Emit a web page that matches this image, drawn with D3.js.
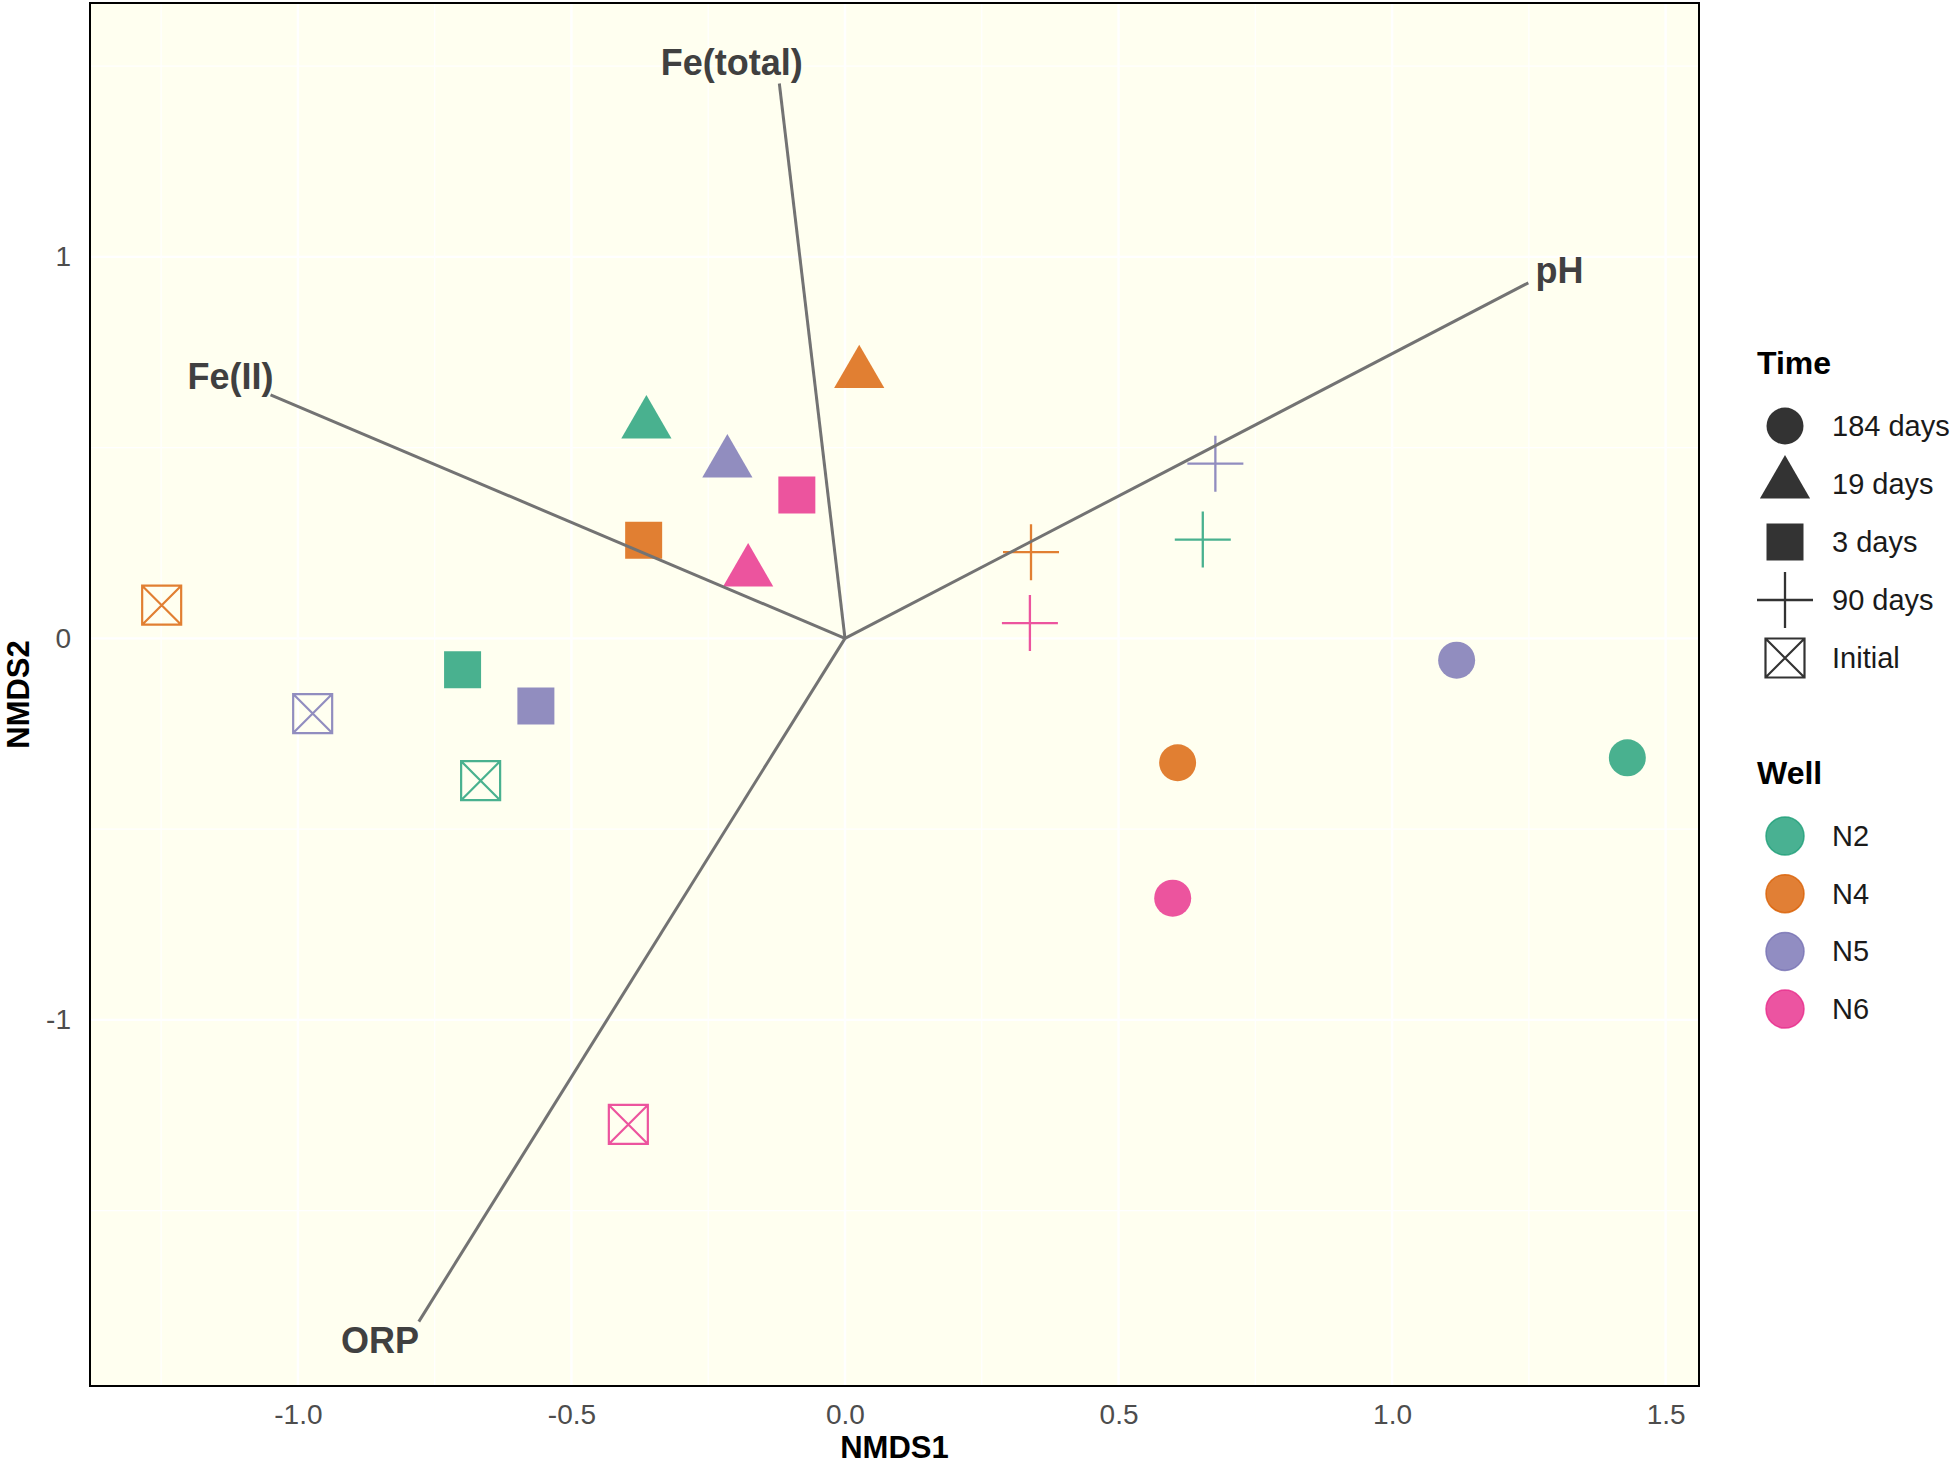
<!DOCTYPE html>
<html>
<head>
<meta charset="utf-8">
<script src="https://cdn.jsdelivr.net/npm/d3@7"></script>
<style>
  body { margin: 0; background: #ffffff; }
  text { font-family: "Liberation Sans", Arial, sans-serif; }
</style>
</head>
<body>
<div id="chart"></div>
<script>
// --- data ---
const wells = ["N2", "N4", "N5", "N6"];
const timeLevels = ["184 days", "19 days", "3 days", "90 days", "Initial"];

const sampleWell = ["N4", "N5", "N2", "N6",  "N2", "N5", "N4", "N6",  "N2", "N5", "N4", "N6",  "N5", "N2", "N4", "N6",  "N5", "N2", "N4", "N6"];
const sampleTime = ["Initial", "Initial", "Initial", "Initial",
                    "3 days", "3 days", "3 days", "3 days",
                    "19 days", "19 days", "19 days", "19 days",
                    "90 days", "90 days", "90 days", "90 days",
                    "184 days", "184 days", "184 days", "184 days"];
const nmds1 = [-1.249, -0.973, -0.666, -0.396,  -0.699, -0.565, -0.368, -0.088,  -0.363, -0.215, 0.026, -0.177,  0.677, 0.654, 0.340, 0.338,  1.118, 1.430, 0.608, 0.599];
const nmds2 = [0.087, -0.197, -0.373, -1.274,  -0.082, -0.177, 0.257, 0.376,  0.562, 0.460, 0.694, 0.174,  0.458, 0.259, 0.226, 0.040,  -0.057, -0.313, -0.326, -0.681];

// environmental fit vectors
const envVars = ["Fe(total)", "pH", "Fe(II)", "ORP"];
const envX = [-0.120, 1.249, -1.050, -0.779];
const envY = [1.4545, 0.932, 0.6385, -1.791];
const envLabelX = [-0.207, 1.306, -1.123, -0.850];
const envLabelY = [1.510, 0.964, 0.6865, -1.840];

const xTicks = [-1.0, -0.5, 0.0, 0.5, 1.0, 1.5];
const yTicks = [-1, 0, 1];
const xMinor = [-1.25, -0.75, -0.25, 0.25, 0.75, 1.25];
const yMinor = [-1.5, -0.5, 0.5, 1.5];

// --- layout ---
const width = 1955, height = 1465;
const panel = { left: 90, right: 1699, top: 3, bottom: 1386 };

const svg = d3.select("#chart").append("svg")
    .attr("width", width)
    .attr("height", height);

const x = d3.scaleLinear().domain([-1.380, 1.561]).range([panel.left, panel.right]);
const y = d3.scaleLinear().domain([1.6655, -1.9597]).range([panel.top, panel.bottom]);

const color = d3.scaleOrdinal().domain(wells).range(["#1B9E77", "#D95F02", "#7570B3", "#E7298A"]);

// panel background
svg.append("rect")
    .attr("x", panel.left).attr("y", panel.top)
    .attr("width", panel.right - panel.left).attr("height", panel.bottom - panel.top)
    .attr("fill", "#fffff0");

// grid
const grid = svg.append("g").attr("stroke", "#ffffff");
grid.selectAll(".vminor").data(xMinor).join("line")
    .attr("x1", d => x(d)).attr("x2", d => x(d))
    .attr("y1", panel.top).attr("y2", panel.bottom).attr("stroke-width", 1.2);
grid.selectAll(".hminor").data(yMinor).join("line")
    .attr("y1", d => y(d)).attr("y2", d => y(d))
    .attr("x1", panel.left).attr("x2", panel.right).attr("stroke-width", 1.2);
grid.selectAll(".vmajor").data(xTicks).join("line")
    .attr("x1", d => x(d)).attr("x2", d => x(d))
    .attr("y1", panel.top).attr("y2", panel.bottom).attr("stroke-width", 2.4);
grid.selectAll(".hmajor").data(yTicks).join("line")
    .attr("y1", d => y(d)).attr("y2", d => y(d))
    .attr("x1", panel.left).attr("x2", panel.right).attr("stroke-width", 2.4);

// shapes
const sym = {
  "184 days": d3.symbol(d3.symbolCircle, Math.PI * 18.5 * 18.5)(),
  "19 days": d3.symbol(d3.symbolTriangle, 1092)(),
  "3 days": d3.symbol(d3.symbolSquare, 37 * 37)()
};
const plusPath = "M-28,0H28M0,-28V28";
const boxPath = "M-19.5,-19.5H19.5V19.5H-19.5Z M-19.5,-19.5L19.5,19.5 M19.5,-19.5L-19.5,19.5";

function drawShape(g, time, col) {
  if (time === "90 days") {
    g.append("path").attr("d", plusPath).attr("fill", "none")
        .attr("stroke", col).attr("stroke-width", 2.3);
  } else if (time === "Initial") {
    g.append("path").attr("d", boxPath).attr("fill", "none")
        .attr("stroke", col).attr("stroke-width", 2.2);
  } else {
    g.append("path").attr("d", sym[time]).attr("fill", col);
  }
}

const samples = nmds1.map((v, i) => ({ x: v, y: nmds2[i], well: sampleWell[i], time: sampleTime[i] }));

const pts = svg.append("g");
samples.forEach(s => {
  const g = pts.append("g")
      .attr("transform", `translate(${x(s.x)},${y(s.y)})`)
      .attr("opacity", 0.8);
  drawShape(g, s.time, color(s.well));
});

// env vectors
const vecs = envVars.map((v, i) => ({ name: v, x: envX[i], y: envY[i], lx: envLabelX[i], ly: envLabelY[i] }));
svg.append("g").selectAll("line").data(vecs).join("line")
    .attr("x1", x(0)).attr("y1", y(0))
    .attr("x2", d => x(d.x)).attr("y2", d => y(d.y))
    .attr("stroke", "#737373").attr("stroke-width", 3);
svg.append("g").selectAll("text").data(vecs).join("text")
    .attr("x", d => x(d.lx)).attr("y", d => y(d.ly))
    .attr("text-anchor", "middle").attr("dominant-baseline", "central")
    .attr("font-size", 36).attr("font-weight", "bold").attr("fill", "#404040")
    .text(d => d.name);

// panel border
svg.append("rect")
    .attr("x", panel.left).attr("y", panel.top)
    .attr("width", panel.right - panel.left).attr("height", panel.bottom - panel.top)
    .attr("fill", "none").attr("stroke", "#000").attr("stroke-width", 2);

// axes (plain hyphen minus like the original)
const xAxis = svg.append("g")
    .attr("transform", `translate(0,${panel.bottom})`)
    .call(d3.axisBottom(x).tickValues(xTicks).tickFormat(d => d.toFixed(1)).tickSize(0).tickPadding(18));
xAxis.select(".domain").remove();
xAxis.selectAll("text").attr("font-size", 28).attr("fill", "#4d4d4d")
    .attr("font-family", "'Liberation Sans', Arial, sans-serif");

const yAxis = svg.append("g")
    .attr("transform", `translate(${panel.left},0)`)
    .call(d3.axisLeft(y).tickValues(yTicks).tickFormat(d => String(d)).tickSize(0).tickPadding(19));
yAxis.select(".domain").remove();
yAxis.selectAll("text").attr("font-size", 28).attr("fill", "#4d4d4d")
    .attr("font-family", "'Liberation Sans', Arial, sans-serif");

svg.append("text")
    .attr("x", (panel.left + panel.right) / 2).attr("y", 1447)
    .attr("text-anchor", "middle").attr("dominant-baseline", "central")
    .attr("font-size", 31).attr("font-weight", "bold").text("NMDS1");
svg.append("text")
    .attr("transform", `translate(18,${(panel.top + panel.bottom) / 2}) rotate(-90)`)
    .attr("text-anchor", "middle").attr("dominant-baseline", "central")
    .attr("font-size", 31).attr("font-weight", "bold").text("NMDS2");

// legends
const legX = 1757, keyX = 1785, labX = 1832;
svg.append("text").attr("x", legX).attr("y", 363).attr("dominant-baseline", "central")
    .attr("font-size", 32).attr("font-weight", "bold").text("Time");
timeLevels.forEach((t, i) => {
  const ky = 426 + i * 58;
  const g = svg.append("g").attr("transform", `translate(${keyX},${ky})`).attr("opacity", 0.8);
  drawShape(g, t, "#000");
  svg.append("text").attr("x", labX).attr("y", ky).attr("dominant-baseline", "central")
      .attr("font-size", 29).attr("fill", "#1a1a1a").text(t);
});

svg.append("text").attr("x", legX).attr("y", 773).attr("dominant-baseline", "central")
    .attr("font-size", 32).attr("font-weight", "bold").text("Well");
wells.forEach((w, i) => {
  const ky = 836 + i * 57.7;
  svg.append("circle").attr("cx", keyX).attr("cy", ky).attr("r", 19)
      .attr("fill", color(w)).attr("fill-opacity", 0.8)
      .attr("stroke", color(w)).attr("stroke-opacity", 0.8).attr("stroke-width", 1.5);
  svg.append("text").attr("x", labX).attr("y", ky).attr("dominant-baseline", "central")
      .attr("font-size", 29).attr("fill", "#1a1a1a").text(w);
});
</script>
</body>
</html>
